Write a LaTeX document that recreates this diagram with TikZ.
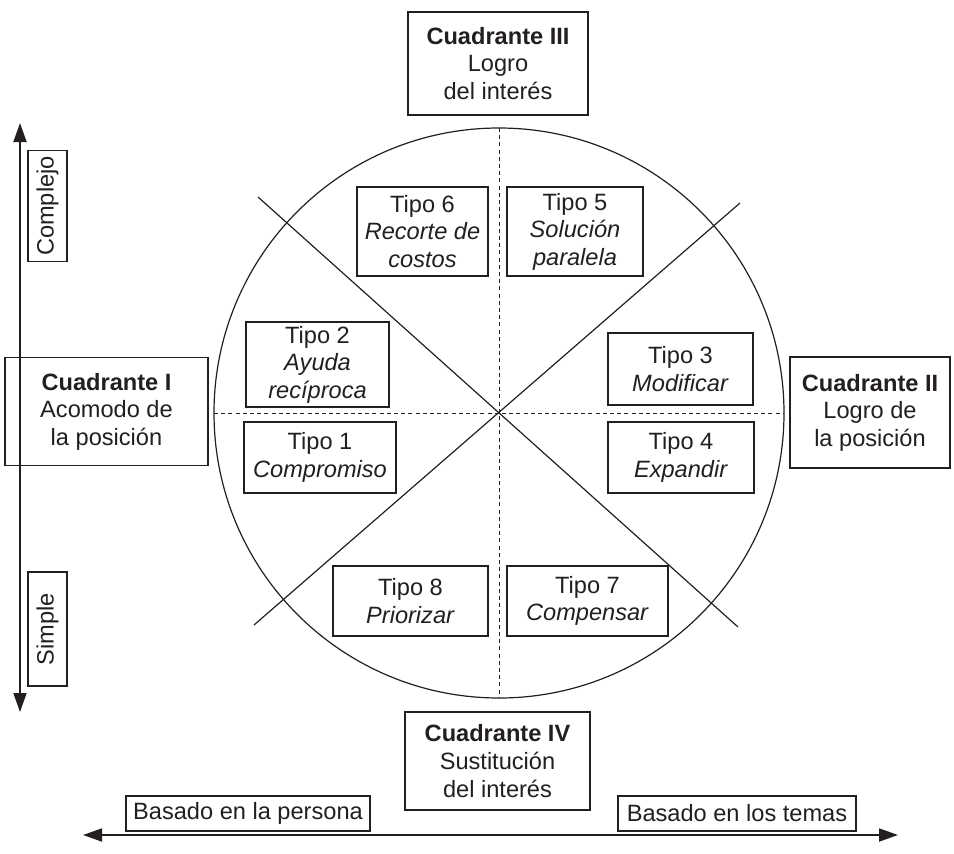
\documentclass[tikz,border=0pt]{standalone}
\usepackage{fontspec}
\setmainfont{Liberation Sans}
\usetikzlibrary{arrows.meta,positioning}
\definecolor{tinta}{RGB}{35,31,32}
\tikzset{
  caja/.style={draw=tinta, line width=0.7pt, fill=white, align=center, inner sep=2pt, text=tinta, font=\fontsize{11.8}{13.8}\selectfont},
  lado/.style={caja, rotate=90, minimum height=19.5pt},
  eje/.style={{Triangle[length=9.5pt,width=6.5pt]}-{Triangle[length=9.5pt,width=6.5pt]}, line width=0.9pt, tinta},
  corte/.style={dash pattern=on 2pt off 1.6pt, line width=0.45pt, tinta},
  diag/.style={line width=0.6pt, tinta},
}
\begin{document}
\begin{tikzpicture}[x=0.5pt, y=-0.5pt]
  \useasboundingbox (0,0) rectangle (954,853);
  % circulo y divisiones
  \coordinate (o) at (499,413);
  \draw[diag] (o) circle[radius=142.5pt];
  \draw[corte] (499,128) -- (499,698);
  \draw[corte] (214,413) -- (784,413);
  \draw[diag] (258,197) -- (738,627);
  \draw[diag] (740,203) -- (254,625);
  % cuadrantes
  \node[caja, minimum width=90pt, minimum height=51.5pt] (c3) at (498,63.5) {\textbf{Cuadrante III}\\Logro\\del interés};
  \node[caja, minimum width=101.5pt, minimum height=54pt] (c1) at (106.5,411.5) {\textbf{Cuadrante I}\\Acomodo de\\la posición};
  \node[caja, minimum width=80pt, minimum height=55.5pt] (c2) at (870,412.5) {\textbf{Cuadrante II}\\Logro de\\la posición};
  \node[caja, minimum width=92.5pt, minimum height=49pt] (c4) at (497.5,761) {\textbf{Cuadrante IV}\\Sustitución\\del interés};
  % tipos
  \node[caja, minimum width=65.5pt, minimum height=44.5pt] (t6) at (422.5,231.5) {Tipo 6\\\textit{Recorte de}\\\textit{costos}};
  \node[caja, minimum width=68pt, minimum height=44.5pt] (t5) at (575,231.5) {Tipo 5\\\textit{Solución}\\\textit{paralela}};
  \node[caja, minimum width=71.5pt, minimum height=41.5pt] (t2) at (317.5,364.5) {Tipo 2\\\textit{Ayuda}\\\textit{recíproca}};
  \node[caja, minimum width=72.5pt, minimum height=36pt] (t3) at (680.5,369) {Tipo 3\\\textit{Modificar}};
  \node[caja, minimum width=76pt, minimum height=35.5pt] (t1) at (320,457.5) {Tipo 1\\\textit{Compromiso}};
  \node[caja, minimum width=73pt, minimum height=35.5pt] (t4) at (681,457.5) {Tipo 4\\\textit{Expandir}};
  \node[caja, minimum width=77.5pt, minimum height=35pt] (t8) at (410.5,601) {Tipo 8\\\textit{Priorizar}};
  \node[caja, minimum width=80.5pt, minimum height=35pt] (t7) at (587.5,601) {Tipo 7\\\textit{Compensar}};
  % ejes
  \coordinate (arr) at (20,123);
  \coordinate (aba) at (20,712);
  \draw[eje] (arr) -- (aba);
  \node[lado, minimum width=55.5pt] (comp) at (47.5,206) {Complejo};
  \node[lado, minimum width=57pt] (simp) at (47.5,629) {Simple};
  \coordinate (izq) at (83,835);
  \coordinate (der) at (898,835);
  \draw[eje] (izq) -- (der);
  \node[caja, minimum width=122pt, minimum height=17.5pt] (pers) at (248,813.5) {Basado en la persona};
  \node[caja, minimum width=119pt, minimum height=17.5pt] (tema) at (737,813.5) {Basado en los temas};
\end{tikzpicture}
\end{document}
